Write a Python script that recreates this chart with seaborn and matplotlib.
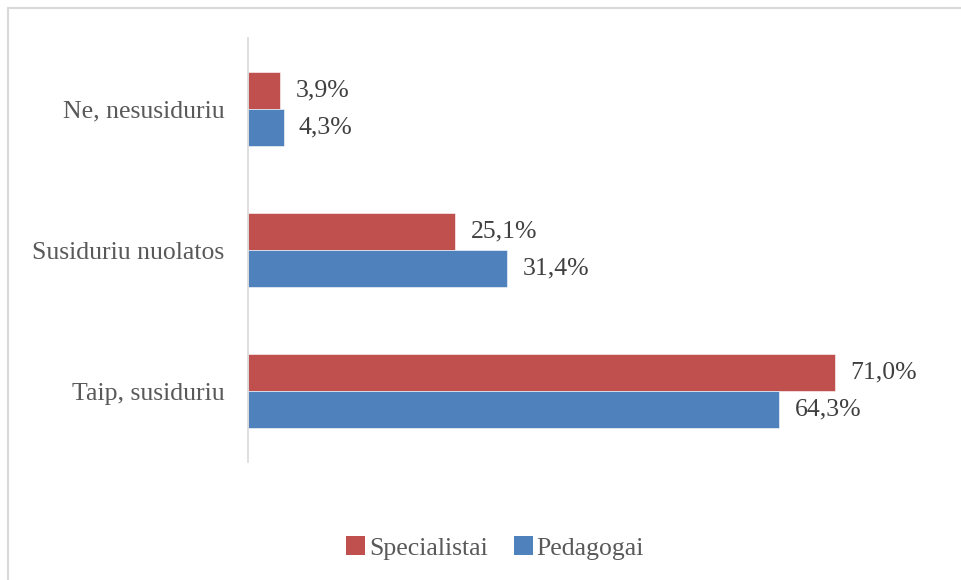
import pandas as pd
import matplotlib
matplotlib.use("Agg")
import matplotlib.pyplot as plt
from matplotlib.lines import Line2D
from matplotlib.patches import Patch
import seaborn as sns

categories = ["Ne, nesusiduriu", "Susiduriu nuolatos", "Taip, susiduriu"]
specialistai = [3.9, 25.1, 71.0]
pedagogai = [4.3, 31.4, 64.3]
groups = ["Specialistai", "Pedagogai"]
colors = ["#C0504D", "#4F81BD"]

df = pd.DataFrame({
    "Atsakymas": categories * 2,
    "Procentai": specialistai + pedagogai,
    "Grupė": [groups[0]] * 3 + [groups[1]] * 3,
})

sns.set_style("white")
plt.rcParams["font.family"] = ["Liberation Serif", "DejaVu Serif"]

W, H = 961, 580
fig = plt.figure(figsize=(W / 100, H / 100), dpi=100)
ax = fig.add_axes([248 / W, 1 - 462 / H, (909 - 248) / W, (462 - 38) / H])

sns.barplot(data=df, y="Atsakymas", x="Procentai", hue="Grupė",
            order=categories, hue_order=groups, palette=colors,
            orient="h", width=0.523, saturation=1, ax=ax, legend=False,
            edgecolor="white", linewidth=0.4)

ax.set_xlim(0, 80)
ax.set_ylim(2.5, -0.5)
ax.set_xlabel("")
ax.set_ylabel("")
ax.set_xticks([])
for side in ["top", "right", "bottom"]:
    ax.spines[side].set_visible(False)
ax.spines["left"].set_color("#D9D9D9")
ax.spines["left"].set_linewidth(1.2)
ax.tick_params(axis="y", length=0, pad=17, labelsize=18.5, labelcolor="#595959")

for cont in ax.containers:
    labels = [f"{v:.1f}%".replace(".", ",") for v in cont.datavalues]
    ax.bar_label(cont, labels=labels, padding=11, fontsize=18.5, color="#404040")

handles = [Patch(facecolor=c, edgecolor="none") for c in colors]
fig.legend(handles, groups, loc="center", bbox_to_anchor=(495 / W, 1 - 548 / H),
           ncol=2, frameon=False, fontsize=18.5, handlelength=0.75,
           handleheight=0.75, handletextpad=0.15, columnspacing=1.0,
           labelcolor="#595959")

# chart border
fig.add_artist(Line2D([8 / W, 1], [1 - 8 / H, 1 - 8 / H], color="#D9D9D9", lw=1.5))
fig.add_artist(Line2D([8 / W, 8 / W], [0, 1 - 8 / H], color="#D9D9D9", lw=1.5))

fig.savefig("out.png", dpi=100, facecolor="white")
